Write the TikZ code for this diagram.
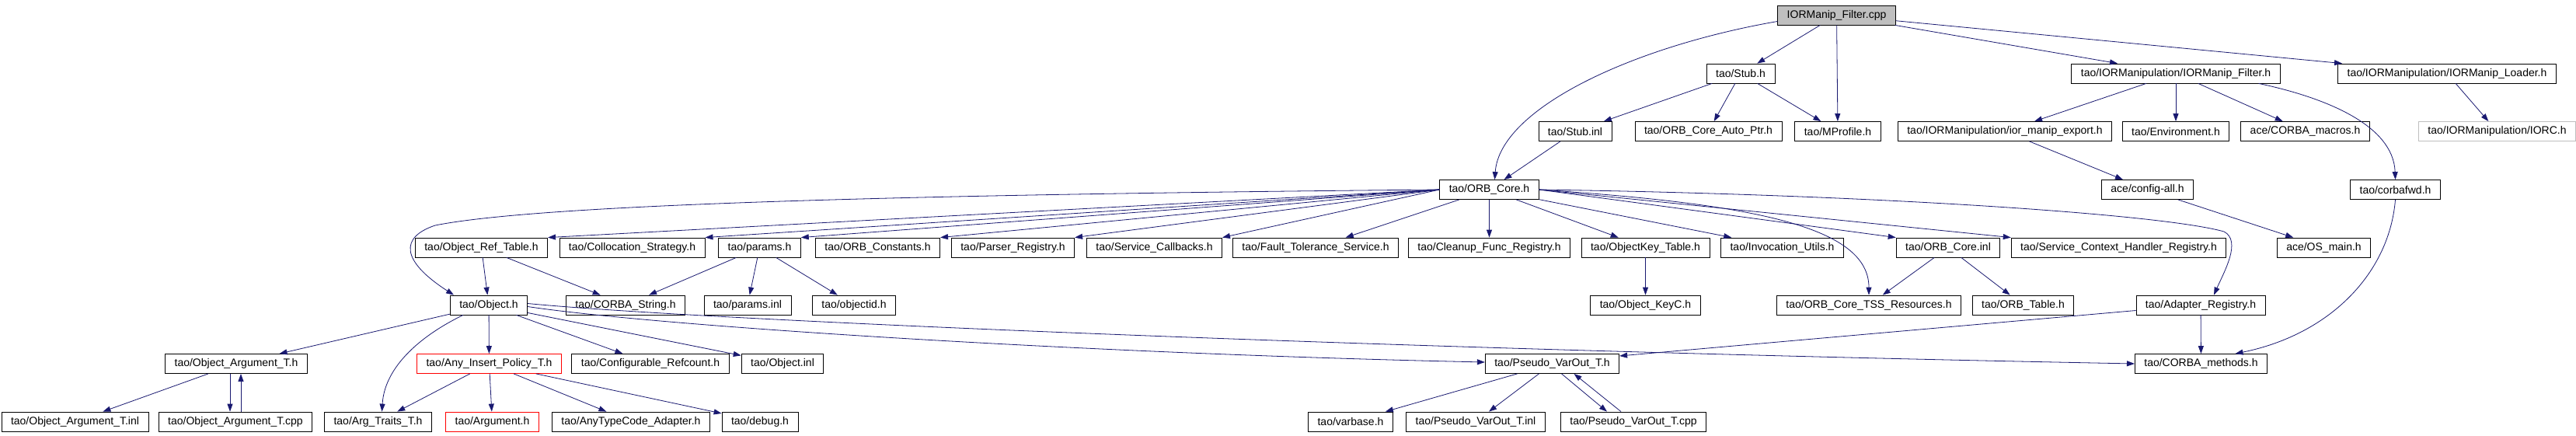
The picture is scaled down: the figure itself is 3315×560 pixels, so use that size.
\documentclass[tikz,border=0pt]{standalone}
\usepackage{fontspec}
\setmainfont{Liberation Sans}
\usepackage{tikz}
\usetikzlibrary{arrows.meta}
\definecolor{edgeblue}{HTML}{191970}
\definecolor{rootgray}{HTML}{BFBFBF}
\tikzset{
        filenode/.style={rectangle, draw=black, fill=white, line width=0.8pt, minimum height=25pt, inner xsep=12pt, inner ysep=0pt, font=\fontsize{14}{16}\selectfont},
        % The file the graph is drawn for
        node_root/.style={filenode, fill=rootgray},
        % Included files
        node_file/.style={filenode},
        % Files that could not be found
        node_missing/.style={filenode, draw=red},
        % Files without documentation
        node_undoc/.style={filenode, draw=rootgray}
}

\begin{document}
\begin{tikzpicture}[
            x=1pt, y=-1pt,
            >={Triangle[length=10pt,width=7pt]},
            every path/.style={draw=edgeblue, line width=0.8pt}
        ]
            \useasboundingbox[draw=none] (0,0) rectangle (3315,560);
            % row 1
            \node[node_root] (root) at (2363.5,19.5) {IORManip\_Filter.cpp};
            % row 2
            \node[node_file] (stubh) at (2240,94.5) {tao/Stub.h};
            \node[node_file] (iorfilter) at (2800,94.5) {tao/IORManipulation/IORManip\_Filter.h};
            \node[node_file] (iorloader) at (3149,94.5) {tao/IORManipulation/IORManip\_Loader.h};
            % row 3
            \node[node_file] (stubinl) at (2027,169) {tao/Stub.inl};
            \node[node_file] (autoptr) at (2198.5,169) {tao/ORB\_Core\_Auto\_Ptr.h};
            \node[node_file] (mprofile) at (2365,169) {tao/MProfile.h};
            \node[node_file] (iorexport) at (2580,169) {tao/IORManipulation/ior\_manip\_export.h};
            \node[node_file] (environment) at (2800,169) {tao/Environment.h};
            \node[node_file] (corbamacros) at (2966.5,169) {ace/CORBA\_macros.h};
            \node[node_undoc] (iorc) at (3213.5,169) {tao/IORManipulation/IORC.h};
            % row 4
            \node[node_file] (orbcore) at (1916.5,244) {tao/ORB\_Core.h};
            \node[node_file] (configall) at (2763.5,244) {ace/config-all.h};
            \node[node_file] (corbafwd) at (3082.5,244) {tao/corbafwd.h};
            % row 5
            \node[node_file] (objreftable) at (619.5,318.5) {tao/Object\_Ref\_Table.h};
            \node[node_file] (collocation) at (813.5,318.5) {tao/Collocation\_Strategy.h};
            \node[node_file] (paramsh) at (977.5,318.5) {tao/params.h};
            \node[node_file] (orbconstants) at (1129.5,318.5) {tao/ORB\_Constants.h};
            \node[node_file] (parserreg) at (1303.5,318.5) {tao/Parser\_Registry.h};
            \node[node_file] (servicecb) at (1485.5,318.5) {tao/Service\_Callbacks.h};
            \node[node_file] (faulttol) at (1693,318.5) {tao/Fault\_Tolerance\_Service.h};
            \node[node_file] (cleanup) at (1916.5,318.5) {tao/Cleanup\_Func\_Registry.h};
            \node[node_file] (objkeytable) at (2117.5,318.5) {tao/ObjectKey\_Table.h};
            \node[node_file] (invocation) at (2293.5,318.5) {tao/Invocation\_Utils.h};
            \node[node_file] (orbcoreinl) at (2507,318.5) {tao/ORB\_Core.inl};
            \node[node_file] (servicectx) at (2726.5,318.5) {tao/Service\_Context\_Handler\_Registry.h};
            \node[node_file] (osmain) at (2990.5,318.5) {ace/OS\_main.h};
            % row 6
            \node[node_file] (objecth) at (629,392.5) {tao/Object.h};
            \node[node_file] (corbastring) at (805,392.5) {tao/CORBA\_String.h};
            \node[node_file] (paramsinl) at (962,392.5) {tao/params.inl};
            \node[node_file] (objectid) at (1099,392.5) {tao/objectid.h};
            \node[node_file] (objectkeyc) at (2117.5,392.5) {tao/Object\_KeyC.h};
            \node[node_file] (tssres) at (2405,392.5) {tao/ORB\_Core\_TSS\_Resources.h};
            \node[node_file] (orbtable) at (2603.5,392.5) {tao/ORB\_Table.h};
            \node[node_file] (adapterreg) at (2832,392.5) {tao/Adapter\_Registry.h};
            % row 7
            \node[node_file] (objargh) at (304,468) {tao/Object\_Argument\_T.h};
            \node[node_missing] (anyinsert) at (629.5,468) {tao/Any\_Insert\_Policy\_T.h};
            \node[node_file] (confrefcount) at (837,468) {tao/Configurable\_Refcount.h};
            \node[node_file] (objectinl) at (1007,468) {tao/Object.inl};
            \node[node_file] (pseudoh) at (1997.5,468) {tao/Pseudo\_VarOut\_T.h};
            \node[node_file] (corbamethods) at (2832.5,468) {tao/CORBA\_methods.h};
            % row 8
            \node[node_file] (objarginl) at (96.5,542.5) {tao/Object\_Argument\_T.inl};
            \node[node_file] (objargcpp) at (303,542.5) {tao/Object\_Argument\_T.cpp};
            \node[node_file] (argtraits) at (486.5,542.5) {tao/Arg\_Traits\_T.h};
            \node[node_missing] (argumenth) at (633.5,542.5) {tao/Argument.h};
            \node[node_file] (anytypecode) at (812,542.5) {tao/AnyTypeCode\_Adapter.h};
            \node[node_file] (debugh) at (978,542.5) {tao/debug.h};
            \node[node_file] (varbase) at (1738,542.5) {tao/varbase.h};
            \node[node_file] (pseudoinl) at (1899,542.5) {tao/Pseudo\_VarOut\_T.inl};
            \node[node_file] (pseudocpp) at (2102,542.5) {tao/Pseudo\_VarOut\_T.cpp};

            % includes of the root file
            \draw[->] (root) -- (stubh);
            \draw[->] ([yshift=-8pt]root.west) .. controls (2100,60) and (1930,140) .. ([xshift=7pt]orbcore.north);
            \draw[->] (root) -- (mprofile);
            \draw[->] (root) -- (iorfilter);
            \draw[->] (root) -- (iorloader);
            \draw[->] (stubh) -- (stubinl);
            \draw[->] (stubh) -- (autoptr);
            \draw[->] (stubh) -- (mprofile);
            \draw[->] (stubinl) -- (orbcore);
            \draw[->] (iorfilter) -- (iorexport);
            \draw[->] (iorfilter) -- (environment);
            \draw[->] (iorfilter) -- (corbamacros);
            \draw[->] ([xshift=-28pt]iorfilter.south east) .. controls (2990,125) and (3080,160) .. (corbafwd.north);
            \draw[->] (iorloader) -- (iorc);
            \draw[->] (iorexport) -- (configall);
            \draw[->] (configall) -- (osmain);
            \draw[->] (corbafwd.south) .. controls (3075,350) and (3000,430) .. ([xshift=44pt]corbamethods.north);

            % includes of ORB_Core.h
            \draw[->] (orbcore.west) .. controls (1200,250) and (700,262) .. (560,290) .. controls (515,305) and (515,335) .. ([xshift=-45pt]objecth.north);
            \draw[->] (orbcore.west) -- (objreftable.north east);
            \draw[->] (orbcore.west) -- (collocation.north east);
            \draw[->] (orbcore.west) -- (paramsh.north east);
            \draw[->] (orbcore.west) -- (orbconstants.north east);
            \draw[->] (orbcore.west) -- (parserreg.north east);
            \draw[->] (orbcore.west) -- (servicecb.north east);
            \draw[->] (orbcore) -- (faulttol);
            \draw[->] (orbcore) -- (cleanup);
            \draw[->] (orbcore) -- (objkeytable);
            \draw[->] (orbcore) -- (invocation);
            \draw[->] (orbcore.east) -- (orbcoreinl.north west);
            \draw[->] (orbcore.east) -- (servicectx.north west);
            \draw[->] (orbcore.east) .. controls (2250,262) and (2405,290) .. (tssres.north);
            \draw[->] (orbcore.east) .. controls (2400,250) and (2780,275) .. (2862,298) .. controls (2885,310) and (2862,350) .. ([xshift=17pt]adapterreg.north);

            \draw[->] (objreftable) -- (objecth);
            \draw[->] (objreftable) -- (corbastring);
            \draw[->] (paramsh) -- (corbastring);
            \draw[->] (paramsh) -- (paramsinl);
            \draw[->] (paramsh) -- (objectid);
            \draw[->] (objkeytable) -- (objectkeyc);
            \draw[->] (orbcoreinl) -- (tssres);
            \draw[->] (orbcoreinl) -- (orbtable);
            \draw[->] (adapterreg) -- (corbamethods);
            \draw[->] ([yshift=-7pt]adapterreg.west) -- ([yshift=10pt]pseudoh.east);

            % includes of Object.h
            \draw[->] (objecth) -- (objargh);
            \draw[->] ([xshift=-33pt]objecth.south) .. controls (545,430) and (495,470) .. ([xshift=5pt]argtraits.north);
            \draw[->] (objecth) -- (anyinsert);
            \draw[->] (objecth) -- (confrefcount);
            \draw[->] (objecth) -- (objectinl);
            \draw[->] ([yshift=-2pt]objecth.east) .. controls (850,420) and (1400,455) .. ([yshift=2pt]pseudoh.west);
            \draw[->] ([yshift=2pt]objecth.east) .. controls (900,412) and (1800,450) .. (corbamethods.west);

            \draw[->] (objargh) -- (objarginl);
            \draw[->] ([xshift=-8pt]objargh.south) -- ([xshift=-7pt]objargcpp.north);
            \draw[->] ([xshift=7pt]objargcpp.north) -- ([xshift=6pt]objargh.south);
            \draw[->] (anyinsert) -- (argtraits);
            \draw[->] (anyinsert) -- (argumenth);
            \draw[->] (anyinsert) -- (anytypecode);
            \draw[->] (anyinsert) -- (debugh);
            \draw[->] (pseudoh) -- (varbase);
            \draw[->] (pseudoh) -- (pseudoinl);
            \draw[->] ([xshift=12pt]pseudoh.south) -- ([xshift=-34pt]pseudocpp.north);
            \draw[->] ([xshift=-16pt]pseudocpp.north) -- ([xshift=28pt]pseudoh.south);
        \end{tikzpicture}
\end{document}
